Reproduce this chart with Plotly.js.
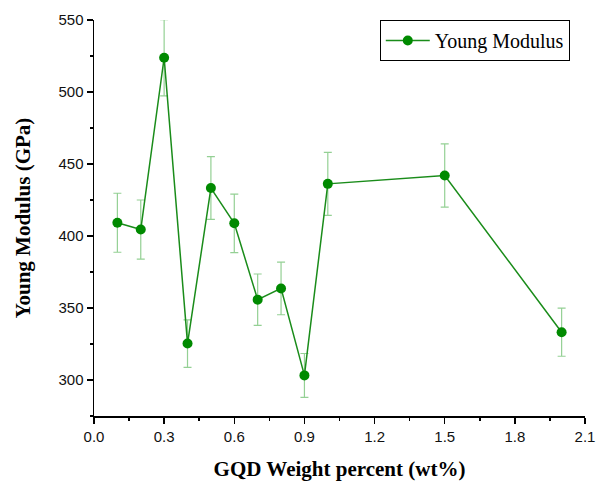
<!DOCTYPE html>
<html>
<head>
<meta charset="utf-8">
<script src="https://cdn.plot.ly/plotly-3.0.1.min.js"></script>
<style>html,body{margin:0;padding:0;background:#fff;}#chart{width:602px;height:482px;}</style>
</head>
<body>
<div id="chart"></div>
<script>
const weightPercent = [0.1, 0.2, 0.3, 0.4, 0.5, 0.6, 0.7, 0.8, 0.9, 1.0, 1.5, 2.0];
const youngModulus = [409.2, 404.5, 523.8, 325.3, 433.3, 408.8, 355.8, 363.6, 303.2, 436.2, 442.0, 333.2];
const errorValues = [20.5, 20.5, 26.5, 16.5, 21.8, 20.3, 17.8, 18.3, 15.2, 21.9, 22.0, 16.7];
const xTicks = [0.0, 0.3, 0.6, 0.9, 1.2, 1.5, 1.8, 2.1];
const xTickLabels = ["0.0", "0.3", "0.6", "0.9", "1.2", "1.5", "1.8", "2.1"];
const yTicks = [300, 350, 400, 450, 500, 550];

const trace = {
  x: weightPercent,
  y: youngModulus,
  type: 'scatter',
  mode: 'lines+markers',
  name: 'Young Modulus',
  line: {color: '#1a8c1a', width: 1.5},
  marker: {color: '#008a00', size: 10},
  error_y: {type: 'data', array: errorValues, visible: true, color: 'rgba(60,170,60,0.55)', thickness: 1.2, width: 4},
  cliponaxis: true
};

const axisCommon = {
  showline: true, linecolor: '#000', linewidth: 1.5,
  ticks: 'outside', ticklen: 6, tickwidth: 1.5, tickcolor: '#000',
  showgrid: false, zeroline: false,
  tickfont: {family: 'Liberation Sans, Arial, sans-serif', size: 15, color: '#111'},
  mirror: false
};

const serif = 'Liberation Serif, Times New Roman, serif';

const layout = {
  width: 602, height: 482,
  margin: {l: 94, r: 17, t: 20, b: 66},
  paper_bgcolor: '#fff', plot_bgcolor: '#fff',
  showlegend: true,
  legend: {
    x: 0.969, xanchor: 'right', y: 1, yanchor: 'top',
    bordercolor: '#000', borderwidth: 1, bgcolor: '#fff',
    font: {family: serif, size: 20, color: '#000'},
    itemwidth: 44,
    tracegroupgap: 0
  },
  xaxis: Object.assign({}, axisCommon, {
    range: [0, 2.1],
    tickvals: xTicks, ticktext: xTickLabels,
    minor: {tickvals: [0.15, 0.45, 0.75, 1.05, 1.35, 1.65, 1.95], ticklen: 3, tickwidth: 1.5, tickcolor: '#000', ticks: 'outside'},
    title: {text: '<b>GQD Weight percent (wt%)</b>', font: {family: serif, size: 21, color: '#000'}, standoff: 18}
  }),
  yaxis: Object.assign({}, axisCommon, {
    range: [275, 550],
    tickvals: yTicks,
    minor: {tickvals: [275, 325, 375, 425, 475, 525], ticklen: 3, tickwidth: 1.5, tickcolor: '#000', ticks: 'outside'},
    title: {text: '<b>Young Modulus (GPa)</b>', font: {family: serif, size: 21, color: '#000'}, standoff: 22}
  })
};

Plotly.newPlot('chart', [trace], layout, {displayModeBar: false, staticPlot: true});
</script>
</body>
</html>
